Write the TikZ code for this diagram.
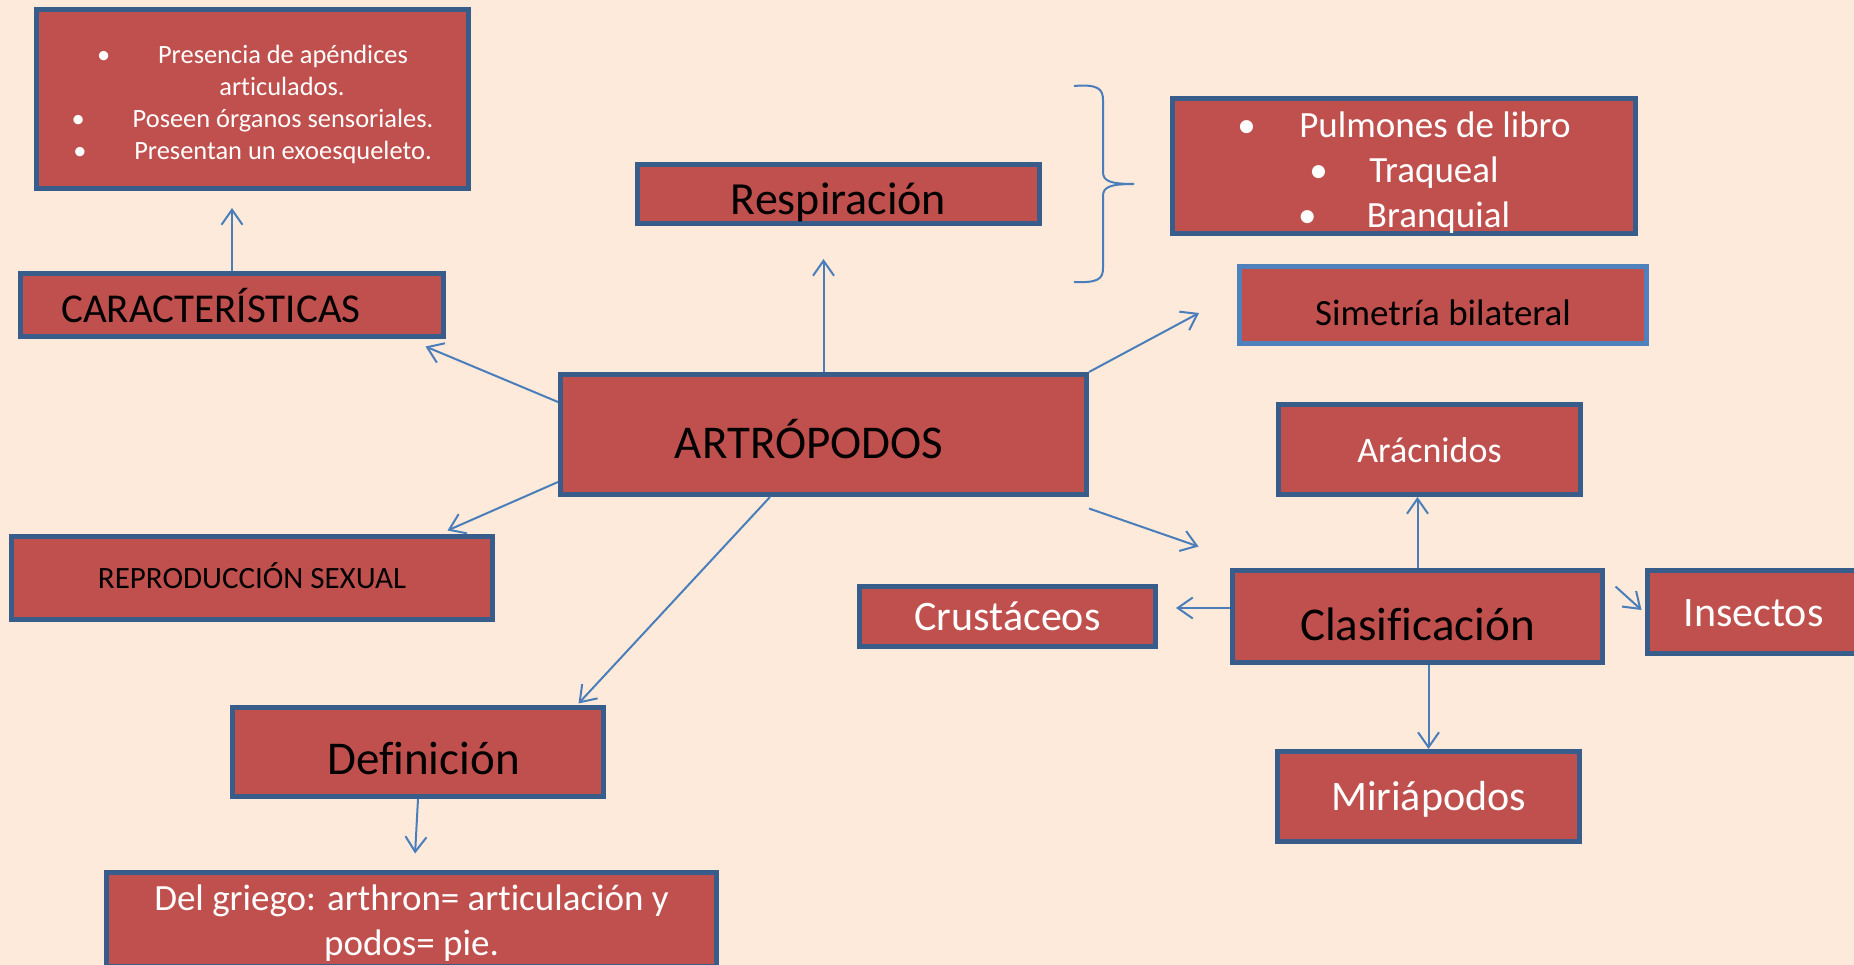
\documentclass[tikz,border=0pt]{standalone}
\usepackage{fontspec}
\setmainfont{Carlito}[Ligatures=NoCommon]
\usepackage{xcolor}
\usepackage{tikz}
\usetikzlibrary{arrows.meta}

\definecolor{fondo}{HTML}{FDEADA}
\definecolor{rojo}{HTML}{C0504D}
\definecolor{borde}{HTML}{385D8A}
\definecolor{bordeclaro}{HTML}{4F81BD}
\definecolor{flecha}{HTML}{4A7EBB}
\newcommand{\tam}[2]{\fontsize{#1}{#2}\selectfont}

\begin{document}
\begin{tikzpicture}[x=1pt, y=-1pt,
    caja/.style={draw=borde, fill=rojo, line width=5pt, rectangle, inner sep=0pt},
    flechita/.style={draw=flecha, line width=2pt,
        -{Straight Barb[length=15pt, width=21pt, line width=2pt]}},
    caph/.style={text height=#1, text depth=0pt}]
    \fill[fondo] (0,0) rectangle (1854,965);
    \useasboundingbox (0,0) rectangle (1854,965);

    % cajas de la izquierda
    \node[caja, minimum width=432pt, minimum height=179pt, text=white, align=center,
          font=\tam{26.4}{32}] (lista) at (252.5,99)
        {\rule{0pt}{29pt}\makebox[61pt][l]{\textbullet}Presencia de apéndices\\
         \hspace*{59pt}articulados.\\
         \makebox[61pt][l]{\textbullet}Poseen órganos sensoriales.\\
         \makebox[61pt][l]{\textbullet}Presentan un exoesqueleto.};
    \node[caja, minimum width=423pt, minimum height=63pt, font=\tam{41}{49},
          caph=35pt] (caract) at (232,305) {CARACTERÍSTICAS\hspace*{42pt}};
    \node[caja, minimum width=481pt, minimum height=83pt, font=\tam{31}{37},
          caph=21.6pt] (repro) at (252,578) {REPRODUCCIÓN SEXUAL};
    \node[caja, minimum width=371pt, minimum height=89pt, font=\tam{47}{56},
          caph=44.7pt] (defi) at (418,752) {\hspace*{11pt}Definición};
    \node[caja, minimum width=610pt, minimum height=94pt, text=white, align=center,
          font=\tam{37}{45}] (griego) at (411.5,919.5)
        {\rule{0pt}{33pt}Del griego: arthron= articulación y\\ podos= pie.};

    % centro y arriba
    \node[caja, minimum width=526pt, minimum height=120pt, font=\tam{47}{56},
          caph=47.7pt] (artro) at (823.5,434.5) {ARTRÓPODOS\hspace*{29pt}};
    \node[caja, minimum width=402pt, minimum height=59pt, font=\tam{46}{55},
          caph=41pt] (resp) at (838.5,194) {Respiración};
    \node[caja, minimum width=463pt, minimum height=135pt, text=white, align=center,
          font=\tam{37}{45}] (pulmones) at (1404,166)
        {\rule{0pt}{38pt}\makebox[62pt][l]{\textbullet}Pulmones de libro\\
         \makebox[60pt][l]{\textbullet}Traqueal\\
         \makebox[69pt][l]{\textbullet}Branquial};
    \node[caja, draw=bordeclaro, minimum width=407pt, minimum height=77pt,
          font=\tam{37}{44}, caph=41.4pt] (sime) at (1443,305) {Simetría bilateral};

    % clasificacion
    \node[caja, minimum width=370pt, minimum height=92pt, font=\tam{47}{56},
          caph=47.7pt] (clasi) at (1417.5,616.5) {Clasificación};
    \node[caja, minimum width=302pt, minimum height=90pt, text=white, font=\tam{36}{43},
          caph=25.7pt] (arac) at (1429.5,449.5) {Arácnidos};
    \node[caja, minimum width=296pt, minimum height=60pt, text=white, font=\tam{42}{50},
          caph=28.5pt] (crus) at (1007.5,616.5) {Crustáceos};
    \node[caja, minimum width=212pt, minimum height=83pt, text=white, font=\tam{42}{50},
          caph=28.5pt] (insec) at (1753.5,612) {Insectos};
    \node[caja, minimum width=302pt, minimum height=90pt, text=white, font=\tam{42}{50},
          caph=28.5pt] (miri) at (1428.5,796.5) {Miriápodos};

    % llave de la respiracion
    \draw[flecha, line width=2pt] (1074,86) .. controls (1098,84) and (1103,89) .. (1103,100)
        -- (1103,172) .. controls (1103,181) and (1110,184) .. (1134,184)
        .. controls (1110,184) and (1103,187) .. (1103,196)
        -- (1103,268) .. controls (1103,279) and (1098,283) .. (1074,282);

    % flechas
    \draw[flechita, shorten >=17pt] (caract.north) -- (caract.north |- lista.south);
    \draw[flechita] ([yshift=32.5pt]artro.west) -- ([xshift=-20.5pt,yshift=-7.5pt]caract.south east);
    \draw[flechita, shorten >=33pt] (artro.north) -- (artro.north |- resp.south);
    \draw[flechita] (artro.north east) -- ([xshift=-38pt,yshift=-8pt]sime.west);
    \draw[flechita] ([yshift=-47.5pt]artro.west) -- ([xshift=-47.5pt,yshift=3.5pt]repro.north east);
    \draw[flechita] ([xshift=-53.5pt]artro.south) -- ([xshift=-27.5pt,yshift=1.5pt]defi.north east);
    \draw[flechita] ([yshift=-11.5pt]artro.south east) -- ([xshift=-31.5pt,yshift=21.5pt]clasi.north west);
    \draw[flechita, shorten >=16.5pt] (defi.south) -- ([xshift=2.7pt]griego.north);
    \draw[flechita] (clasi.north) -- (clasi.north |- arac.south);
    \draw[flechita, shorten >=18pt] ([yshift=8.5pt]clasi.west) -- ([yshift=8.5pt]clasi.west -| crus.east);
    \draw[flechita] ([xshift=10.5pt,yshift=-18.5pt]clasi.north east) -- ([xshift=-3.5pt,yshift=2pt]insec.west);
    \draw[flechita] (miri.north |- clasi.south) -- (miri.north);
\end{tikzpicture}
\end{document}
